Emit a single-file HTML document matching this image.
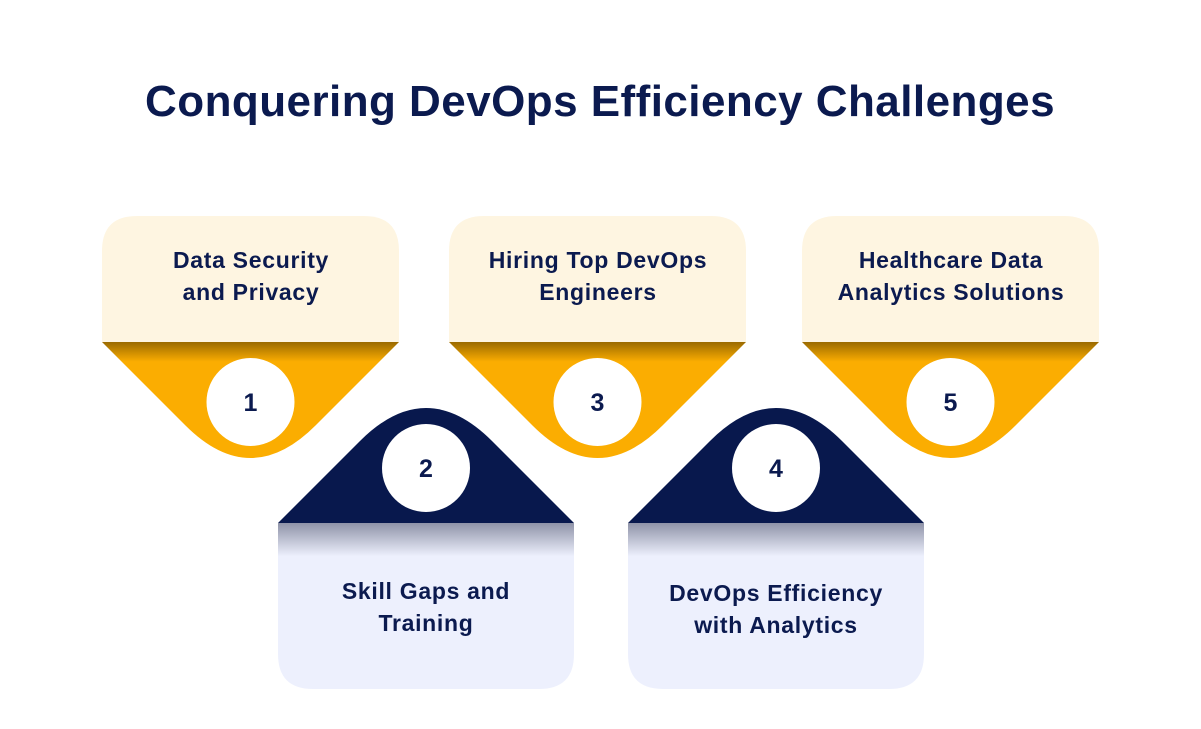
<!DOCTYPE html>
<html><head><meta charset="utf-8"><style>
html,body{margin:0;padding:0;background:#fff;}
svg{display:block;}
text{font-family:"Liberation Sans",sans-serif;font-weight:bold;fill:#0B1A4F;}
</style></head><body>
<svg width="1201" height="729" viewBox="0 0 1201 729" xmlns="http://www.w3.org/2000/svg">
<defs>
<linearGradient id="og" x1="0" y1="0" x2="0" y2="1" gradientUnits="objectBoundingBox">
<stop offset="0" stop-color="#9A6A00"/><stop offset="0.17" stop-color="#FBAD01"/><stop offset="1" stop-color="#FBAD01"/>
</linearGradient>
<linearGradient id="lg" x1="0" y1="0" x2="0" y2="1">
<stop offset="0" stop-color="#8F93A8"/><stop offset="0.2" stop-color="#EDF0FD"/><stop offset="1" stop-color="#EDF0FD"/>
</linearGradient>
<g id="top">
<path d="M0,342 V251 Q0,216 35,216 H262 Q297,216 297,251 V342 Z" fill="#FEF5E1"/>
<path d="M0,342 H297 L213.5,425.5 Q148.5,490.5 83.5,425.5 Z" fill="url(#og)"/>
<circle cx="148.5" cy="402" r="44" fill="#fff"/>
</g>
<g id="bot">
<path d="M0,523 L82,441 Q148,375 214,441 L296,523 Z" fill="#08184D"/>
<path d="M0,523 H296 V654 Q296,689 261,689 H35 Q0,689 0,654 Z" fill="url(#lg)"/>
<circle cx="148" cy="468" r="44" fill="#fff"/>
</g>
</defs>
<text x="600" y="116" font-size="44" text-anchor="middle" letter-spacing="0.45">Conquering DevOps Efficiency Challenges</text>

<use href="#top" x="102"/>
<use href="#top" x="449"/>
<use href="#top" x="802"/>
<use href="#bot" x="278"/>
<use href="#bot" x="628"/>

<g font-size="23" letter-spacing="0.7">
<text x="251" y="268" text-anchor="middle">Data Security</text>
<text x="251" y="300" text-anchor="middle">and Privacy</text>
<text x="598" y="268" text-anchor="middle">Hiring Top DevOps</text>
<text x="598" y="300" text-anchor="middle">Engineers</text>
<text x="951" y="268" text-anchor="middle">Healthcare Data</text>
<text x="951" y="300" text-anchor="middle">Analytics Solutions</text>
<text x="426" y="599" text-anchor="middle">Skill Gaps and</text>
<text x="426" y="631" text-anchor="middle">Training</text>
<text x="776" y="601" text-anchor="middle">DevOps Efficiency</text>
<text x="776" y="633" text-anchor="middle">with Analytics</text>
</g>
<text x="250.5" y="411" text-anchor="middle" font-size="25">1</text>
<text x="426" y="477" text-anchor="middle" font-size="25">2</text>
<text x="597.5" y="411" text-anchor="middle" font-size="25">3</text>
<text x="776" y="477" text-anchor="middle" font-size="25">4</text>
<text x="950.5" y="411" text-anchor="middle" font-size="25">5</text>
</svg>
</body></html>
